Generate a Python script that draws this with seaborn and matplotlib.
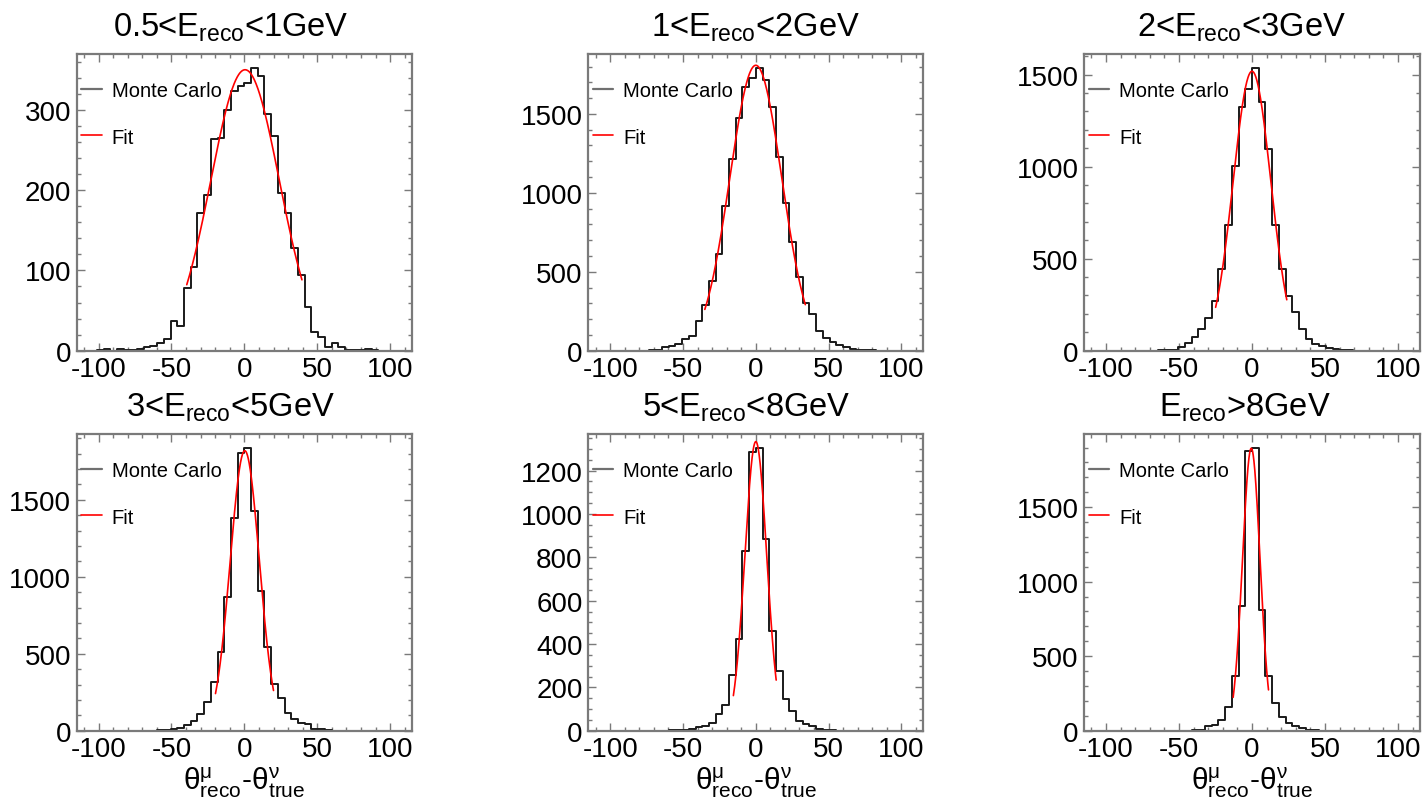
import numpy as np
import pandas as pd
import matplotlib
matplotlib.use("Agg")
import matplotlib.pyplot as plt
from matplotlib.ticker import MultipleLocator
from matplotlib.lines import Line2D
import seaborn as sns

# ---------------- data ----------------
BIN_LO, BIN_HI, N_BINS = -115.0, 115.0, 50

titles = [
    r"0.5<E$_{\mathrm{reco}}$<1GeV",
    r"1<E$_{\mathrm{reco}}$<2GeV",
    r"2<E$_{\mathrm{reco}}$<3GeV",
    r"3<E$_{\mathrm{reco}}$<5GeV",
    r"5<E$_{\mathrm{reco}}$<8GeV",
    r"E$_{\mathrm{reco}}$>8GeV",
]

counts_05_1 = [0, 0, 0, 1, 2, 0, 2, 1, 1, 2, 4, 6, 10, 15, 37, 31, 78, 104, 171, 194,
               264, 265, 300, 323, 330, 333, 352, 342, 295, 267, 196, 171, 128, 94, 55, 23, 17, 5, 10, 5,
               1, 1, 1, 2, 1, 0, 0, 0, 0, 0]
counts_1_2 = [0, 0, 0, 0, 0, 0, 0, 0, 1, 2, 6, 21, 32, 42, 74, 91, 186, 292, 444, 613,
              915, 1216, 1474, 1670, 1727, 1790, 1712, 1543, 1226, 934, 691, 465, 300, 233, 123, 80, 53, 36, 21, 13,
              6, 3, 2, 1, 0, 0, 0, 0, 0, 0]
counts_2_3 = [0, 0, 0, 0, 0, 0, 0, 0, 0, 0, 1, 2, 3, 6, 18, 42, 72, 118, 176, 272,
              444, 685, 1005, 1326, 1422, 1535, 1350, 1096, 685, 444, 299, 212, 118, 63, 36, 24, 16, 9, 5, 2,
              1, 0, 0, 0, 0, 0, 0, 0, 0, 0]
counts_3_5 = [0, 0, 0, 0, 0, 0, 0, 0, 0, 0, 0, 0, 2, 4, 8, 20, 39, 65, 108, 184,
              314, 513, 866, 1379, 1803, 1835, 1428, 909, 545, 303, 210, 113, 76, 50, 43, 11, 9, 3, 1, 0,
              0, 0, 0, 0, 0, 0, 0, 0, 0, 0]
counts_5_8 = [0, 0, 0, 0, 0, 0, 0, 0, 0, 0, 0, 0, 1, 2, 5, 8, 15, 23, 35, 78,
              120, 257, 423, 831, 1288, 1304, 883, 462, 274, 146, 89, 46, 31, 20, 8, 3, 1, 0, 0, 0,
              0, 0, 0, 0, 0, 0, 0, 0, 0, 0]
counts_8_up = [0, 0, 0, 0, 0, 0, 0, 0, 0, 0, 0, 0, 0, 0, 0, 1, 3, 7, 34, 38,
               74, 157, 369, 834, 1879, 1896, 810, 369, 186, 94, 49, 34, 16, 7, 3, 1, 0, 0, 0, 0,
               0, 0, 0, 0, 0, 0, 0, 0, 0, 0]
all_counts = [counts_05_1, counts_1_2, counts_2_3, counts_3_5, counts_5_8, counts_8_up]

# Gaussian fit parameters: amplitude, mean, sigma, fit range
fit_amp = [350, 1808, 1518, 1818, 1334, 1895]
fit_mean = [0.5, 0.0, 0.0, 0.3, 0.0, -0.5]
fit_sigma = [23.5, 17.8, 12.9, 10.0, 7.5, 6.0]
fit_lo = [-39.5, -35.0, -24.9, -19.8, -15.4, -12.9]
fit_hi = [39.5, 34.0, 23.8, 20.0, 14.0, 11.3]

y_major = [100, 500, 500, 500, 200, 500]
y_minor = [20, 100, 100, 100, 50, 100]
title_x = [0.46, 0.50, 0.47, 0.46, 0.47, 0.48]

legend_labels = ["Monte Carlo", "Fit"]
xlabel = r"$\mathrm{θ}^{\mathrm{μ}}_{\mathrm{reco}}$-$\mathrm{θ}^{\mathrm{ν}}_{\mathrm{true}}$"

# ---------------- style ----------------
sns.set_theme(style="ticks")
plt.rcParams["font.family"] = ["Liberation Sans", "DejaVu Sans"]
plt.rcParams["mathtext.fontset"] = "custom"
plt.rcParams["mathtext.rm"] = "Liberation Sans"
plt.rcParams["mathtext.it"] = "Liberation Sans:italic"
plt.rcParams["mathtext.bf"] = "Liberation Sans:bold"
plt.rcParams["axes.unicode_minus"] = False
plt.rcParams["text.color"] = "black"
plt.rcParams["axes.labelcolor"] = "black"
plt.rcParams["xtick.labelcolor"] = "black"
plt.rcParams["ytick.labelcolor"] = "black"

W, H = 1427, 804
fig = plt.figure(figsize=(W / 100, H / 100), dpi=100)
fig.patch.set_facecolor("white")

col_left = [76.7, 588.3, 1084.0]
col_right = [412.0, 923.3, 1420.0]
row_top = [55.0, 435.0]
row_bot = [351.7, 731.7]

edges = np.linspace(BIN_LO, BIN_HI, N_BINS + 1)
centers = 0.5 * (edges[:-1] + edges[1:])
frame_col = "#7a7a7a"
hist_col = "#1a1a1a"
fit_col = "#ff0000"

for i in range(6):
    r, c = divmod(i, 3)
    l, rr = col_left[c], col_right[c]
    t, b = row_top[r], row_bot[r]
    ax = fig.add_axes([l / W, 1 - b / H, (rr - l) / W, (b - t) / H])
    ax.set_facecolor("white")

    df = pd.DataFrame({"x": centers, "w": np.asarray(all_counts[i], dtype=float)})
    sns.histplot(data=df, x="x", weights="w", bins=N_BINS, binrange=(BIN_LO, BIN_HI),
                 element="step", fill=False, color=hist_col, linewidth=1.4, ax=ax)

    xs = np.linspace(fit_lo[i], fit_hi[i], 300)
    ys = fit_amp[i] * np.exp(-0.5 * ((xs - fit_mean[i]) / fit_sigma[i]) ** 2)
    sns.lineplot(x=xs, y=ys, color=fit_col, linewidth=1.2, ax=ax, sort=False)

    ax.set_xlim(BIN_LO, BIN_HI)
    ax.set_ylim(0, 1.05 * max(all_counts[i]))
    ax.xaxis.set_major_locator(MultipleLocator(50))
    ax.xaxis.set_minor_locator(MultipleLocator(10))
    ax.yaxis.set_major_locator(MultipleLocator(y_major[i]))
    ax.yaxis.set_minor_locator(MultipleLocator(y_minor[i]))
    ax.tick_params(which="both", direction="in", top=True, right=True, color=frame_col,
                   width=1.0, labelsize=20, labelcolor="black")
    ax.tick_params(which="major", length=6, pad=4)
    ax.tick_params(which="minor", length=3)
    for sp in ax.spines.values():
        sp.set_color(frame_col)
        sp.set_linewidth(1.6)
    ax.set_ylabel("")
    ax.set_xlabel(xlabel if r == 1 else "", fontsize=21.5, labelpad=2, color="black")
    ax.set_title(titles[i], fontsize=23.5, x=title_x[i], pad=13, color="black")

    handles = [Line2D([], [], color="#707070", linewidth=1.6),
               Line2D([], [], color=fit_col, linewidth=1.2)]
    leg = ax.legend(handles, legend_labels, loc="upper left", bbox_to_anchor=(-0.01, 0.935),
                    frameon=False, fontsize=14.5, handlelength=1.0, handletextpad=0.5,
                    labelspacing=1.35, borderaxespad=0.0)
    for txt in leg.get_texts():
        txt.set_color("black")

fig.savefig("out.png", dpi=100, facecolor="white")
